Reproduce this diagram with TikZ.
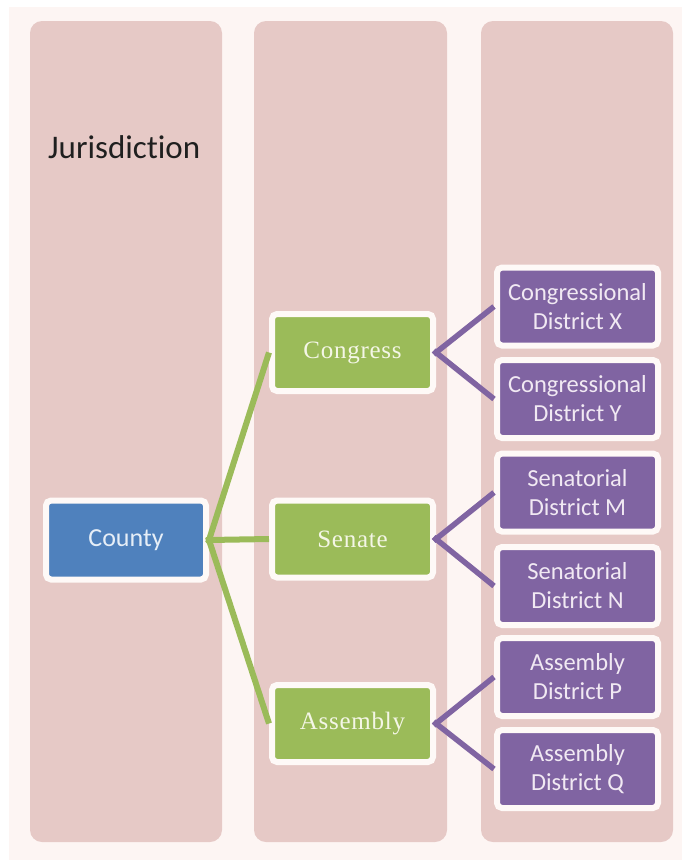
\documentclass[tikz,border=0pt]{standalone}
\usepackage{fontspec}
\setmainfont[Ligatures=NoCommon]{Carlito}
\newfontfamily\serifcam[LetterSpace=3]{Liberation Serif}
\definecolor{pagebg}{HTML}{FDF5F3}
\definecolor{colfill}{HTML}{E6C9C6}
\definecolor{boxedge}{HTML}{FEF9F7}
\definecolor{cblue}{HTML}{4F81BD}
\definecolor{cgreen}{HTML}{9BBB59}
\definecolor{cpurple}{HTML}{8064A2}
\definecolor{tblue}{HTML}{E6EEF7}
\definecolor{tgreen}{HTML}{F4F6E6}
\definecolor{tpurple}{HTML}{F1E9F3}
\tikzset{
  x=1pt, y=-1pt,
  colbox/.style={fill=colfill, rounded corners=12pt},
  basebox/.style={draw=boxedge, line width=6pt, rounded corners=5pt, align=center, inner sep=0pt},
  bluebox/.style={basebox, fill=cblue, text=tblue, minimum width=160pt, minimum height=79pt, font=\fontsize{26}{30}\selectfont},
  greenbox/.style={basebox, fill=cgreen, text=tgreen, minimum width=161pt, minimum height=77pt, font=\serifcam\fontsize{25}{30}\selectfont},
  purplebox/.style={basebox, fill=cpurple, text=tpurple, minimum width=161pt, minimum height=78pt, font=\fontsize{24.5}{29}\selectfont},
  glink/.style={draw=cgreen, line width=6pt, shorten <=-3pt},
  plink/.style={draw=cpurple, line width=5.5pt, shorten <=-3pt},
  title/.style={anchor=west, text=black!88, font=\fontsize{33}{37}\selectfont, inner sep=0pt}
}
\begin{document}
\begin{tikzpicture}
\useasboundingbox (0,0) rectangle (682,860);
\fill[white] (0,0) rectangle (682,860);
\fill[pagebg] (9,7) rectangle (682,860);
% columns
\fill[colbox] (30,21) rectangle (222,842);
\fill[colbox] (254,21) rectangle (447,842);
\fill[colbox] (481,21) rectangle (673,842);
\node[title] (jur) at (48,147) {Jurisdiction};
% nodes
\node[bluebox] (county) at (126,540) {County};
\node[greenbox] (congress) at (352.5,352.5) {Congress};
\node[greenbox] (senate) at (352.5,539) {Senate};
\node[greenbox] (assembly) at (352.5,723.5) {Assembly};
\node[purplebox] (cx) at (577.5,306.5) {Congressional\\District X};
\node[purplebox] (cy) at (577.5,399) {Congressional\\District Y};
\node[purplebox] (sm) at (577.5,492.5) {Senatorial\\District M};
\node[purplebox] (sn) at (577.5,586) {Senatorial\\District N};
\node[purplebox] (ap) at (577.5,677) {Assembly\\District P};
\node[purplebox] (aq) at (577.5,769) {Assembly\\District Q};
% connectors
\draw[glink] (county.east) -- (congress.west);
\draw[glink] (county.east) -- (senate.west);
\draw[glink] (county.east) -- (assembly.west);
\draw[plink] (congress.east) -- (cx.west);
\draw[plink] (congress.east) -- (cy.west);
\draw[plink] (senate.east) -- (sm.west);
\draw[plink] (senate.east) -- (sn.west);
\draw[plink] (assembly.east) -- (ap.west);
\draw[plink] (assembly.east) -- (aq.west);
\end{tikzpicture}
\end{document}
